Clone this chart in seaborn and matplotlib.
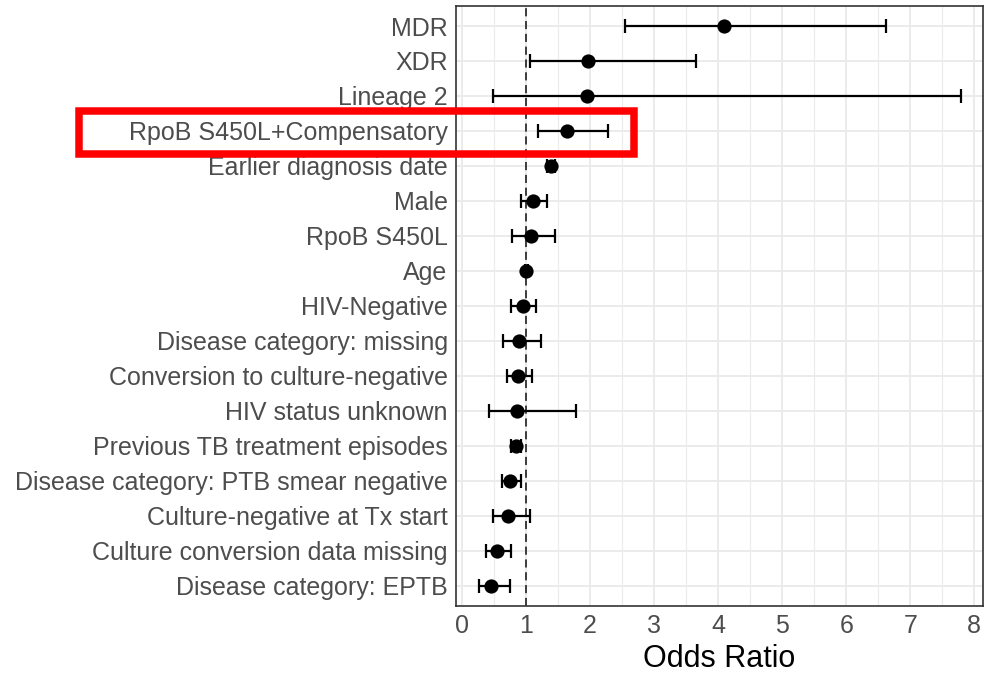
import matplotlib
matplotlib.use("Agg")
import matplotlib.pyplot as plt
from matplotlib.patches import Rectangle
from matplotlib.ticker import MultipleLocator
import seaborn as sns
import pandas as pd

# ---- data ----
variables = [
    "MDR", "XDR", "Lineage 2", "RpoB S450L+Compensatory", "Earlier diagnosis date",
    "Male", "RpoB S450L", "Age", "HIV-Negative", "Disease category: missing",
    "Conversion to culture-negative", "HIV status unknown",
    "Previous TB treatment episodes", "Disease category: PTB smear negative",
    "Culture-negative at Tx start", "Culture conversion data missing",
    "Disease category: EPTB",
]
odds_ratio = [4.10, 1.97, 1.95, 1.64, 1.39, 1.11, 1.08, 1.01, 0.95, 0.89,
              0.875, 0.86, 0.84, 0.76, 0.72, 0.55, 0.45]
ci_low = [2.55, 1.06, 0.49, 1.19, 1.33, 0.92, 0.79, 0.99, 0.77, 0.64,
          0.70, 0.42, 0.77, 0.63, 0.49, 0.38, 0.27]
ci_high = [6.62, 3.66, 7.79, 2.28, 1.45, 1.33, 1.46, 1.03, 1.16, 1.24,
           1.10, 1.79, 0.92, 0.93, 1.07, 0.77, 0.76]
x_ticks = [0, 1, 2, 3, 4, 5, 6, 7, 8]
x_label = "Odds Ratio"

df = pd.DataFrame({"variable": variables, "OR": odds_ratio,
                   "lo": ci_low, "hi": ci_high})

sns.set_theme(style="white")
plt.rcParams["font.family"] = ["Liberation Sans", "DejaVu Sans"]

fig = plt.figure(figsize=(9.84, 6.81), dpi=100)
ax = fig.add_axes([455.7 / 984, 1 - 605.7 / 681, (982.7 - 455.7) / 984, (605.7 - 6) / 681])

# reference line at OR = 1
ax.axvline(1, color="#2e2e2e", lw=1.3, linestyle=(0, (4.5, 2.6)), zorder=2)

# confidence intervals
ax.errorbar(df["OR"], df["variable"],
            xerr=[df["OR"] - df["lo"], df["hi"] - df["OR"]],
            fmt="none", ecolor="black", elinewidth=1.6, capsize=4.8,
            capthick=1.6, zorder=3)

# point estimates
sns.scatterplot(data=df, x="OR", y="variable", color="black", s=105,
                edgecolor="black", linewidth=0, ax=ax, zorder=4)

ax.set_xlim(-0.094, 8.13)
ax.set_ylim(len(variables) - 1 + 0.572, -0.572)
ax.set_xticks(x_ticks)
ax.xaxis.set_minor_locator(MultipleLocator(0.5))

ax.grid(True, which="major", color="#EBEBEB", lw=1.4, zorder=0)
ax.grid(True, which="minor", axis="x", color="#EBEBEB", lw=0.8, zorder=0)
ax.set_axisbelow(True)

for sp in ax.spines.values():
    sp.set_color("#333333")
    sp.set_linewidth(1.2)

ax.tick_params(axis="both", which="major", length=3.8, width=1.1,
               color="#333333", labelcolor="#4D4D4D", labelsize=18)
ax.tick_params(axis="y", pad=2)
ax.tick_params(axis="x", pad=2.5)
ax.tick_params(which="minor", length=0)

ax.set_ylabel("")
ax.set_xlabel(x_label, fontsize=22, color="black", labelpad=4)

# red highlight box
rect = Rectangle((79 / 984, 1 - 153.5 / 681), 555 / 984, 42.5 / 681,
                 transform=fig.transFigure, fill=False, edgecolor="#FF0000",
                 linewidth=5.4, zorder=10, clip_on=False)
fig.patches.append(rect)

fig.savefig("out.png", dpi=100)
